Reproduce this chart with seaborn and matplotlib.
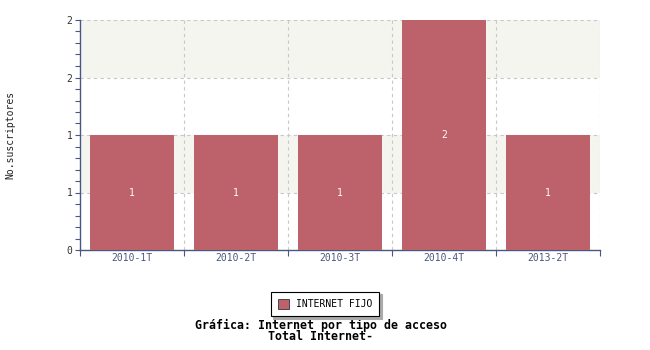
import matplotlib
matplotlib.use("Agg")
import matplotlib.pyplot as plt
import seaborn as sns
import pandas as pd
import numpy as np
from matplotlib.patches import Patch

categories = ["2010-1T", "2010-2T", "2010-3T", "2010-4T", "2013-2T"]
values = [1, 1, 1, 2, 1]
series_name = "INTERNET FIJO"
ytick_values = [0, 0.5, 1, 1.5, 2]
ytick_labels = ["0", "1", "1", "2", "2"]
ylabel = "No.suscriptores"
title_lines = ["Gráfica: Internet por tipo de acceso", "Total Internet-"]

bar_color = "#bd616b"
axis_color = "#4a5780"
grid_color = "#c8c8c8"
band_color = "#f5f5f0"
mono = "DejaVu Sans Mono"

sns.set_theme(style="white")
plt.rcParams["font.family"] = [mono, "DejaVu Sans"]

df = pd.DataFrame({"periodo": categories, "valor": values, "serie": series_name})

fig = plt.figure(figsize=(6.5, 3.5), dpi=100)
ax = fig.add_axes([80 / 650, 100 / 350, 520 / 650, 230 / 350])

# alternating bands
for i in range(len(ytick_values) - 1):
    if i % 2 == 1:
        ax.axhspan(ytick_values[i], ytick_values[i + 1], color=band_color, zorder=0, lw=0)

sns.barplot(data=df, x="periodo", y="valor", hue="serie", palette=[bar_color],
            width=0.81, ax=ax, legend=False, zorder=3, saturation=1, linewidth=0,
            edgecolor="none")

ax.set_xlim(-0.5, len(categories) - 0.5)
ax.set_ylim(0, 2)

# grid lines
for yv in ytick_values[1:]:
    ax.axhline(yv, color=grid_color, lw=0.8, ls=(0, (3, 3)), zorder=1)
for k in range(1, len(categories) + 1):
    ax.axvline(k - 0.5, color=grid_color, lw=0.8, ls=(0, (3, 3)), zorder=1)

# bar labels
for c in ax.containers:
    for rect, v in zip(c, values):
        ax.text(rect.get_x() + rect.get_width() / 2, rect.get_height() / 2, f"{v}",
                ha="center", va="center", color="white", fontsize=7, zorder=4)

# ticks
ax.set_yticks(ytick_values)
ax.set_yticklabels(ytick_labels)
ax.set_yticks(np.arange(0, 2.001, 0.1), minor=True)
ax.tick_params(axis="y", which="both", direction="out", length=3.5, width=0.8,
               color=axis_color, labelsize=7, labelcolor="#333333", pad=2, left=True)
ax.set_xticks(range(len(categories)))
ax.set_xticklabels(categories)
ax.tick_params(axis="x", which="major", length=0, labelsize=7, labelcolor=axis_color, pad=2)
ax.set_xticks(np.arange(-0.5, len(categories), 1.0), minor=True)
ax.tick_params(axis="x", which="minor", direction="out", length=4, width=0.8,
               color=axis_color, bottom=True)

for s in ["top", "right"]:
    ax.spines[s].set_visible(False)
for s in ["left", "bottom"]:
    ax.spines[s].set_color(axis_color)
    ax.spines[s].set_linewidth(1)

ax.set_xlabel("")
ax.set_ylabel("")
fig.text(10 / 650, 1 - 135 / 350, ylabel, rotation=90, ha="center", va="center",
         fontsize=7, color="#222222")

# legend
handles = [Patch(facecolor=bar_color, edgecolor="#333333", lw=0.6, label=series_name)]
leg = fig.legend(handles=handles, loc="center", bbox_to_anchor=(325 / 650, 1 - 304 / 350),
                 fontsize=7, frameon=True, fancybox=False,
                 shadow={"color": "#aaaaaa", "alpha": 1, "ox": 2, "oy": -2},
                 handlelength=1.15, handleheight=1.15, borderpad=0.75,
                 borderaxespad=0, handletextpad=0.7)
leg.get_frame().set_edgecolor("#000000")
leg.get_frame().set_linewidth(0.8)
for t in leg.get_texts():
    t.set_color("#000000")

fig.text(321 / 650, 1 - 325 / 350, title_lines[0], ha="center", va="center",
         fontsize=8.4, fontweight="bold", color="#000000")
fig.text(321 / 650, 1 - 337 / 350, title_lines[1], ha="center", va="center",
         fontsize=8.4, fontweight="bold", color="#000000")

fig.savefig("out.png", dpi=100, facecolor="white")
